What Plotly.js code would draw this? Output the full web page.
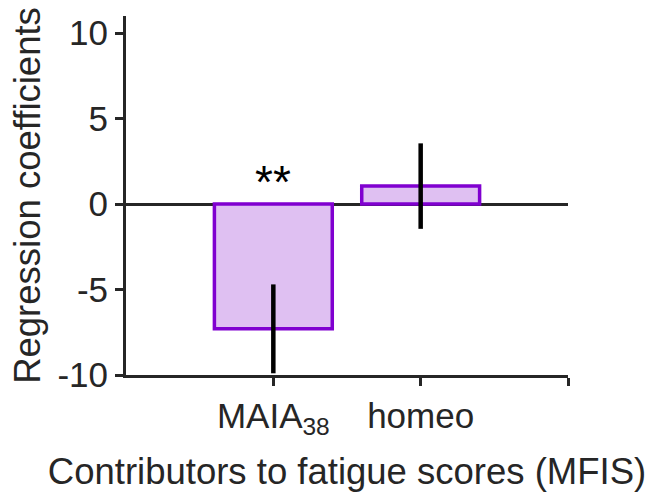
<!DOCTYPE html>
<html>
<head>
<meta charset="utf-8">
<script src="https://cdn.plot.ly/plotly-3.0.1.min.js"></script>
<style>html,body{margin:0;padding:0;background:#fff;}#chart{width:652px;height:496px;}</style>
</head>
<body>
<div id="chart"></div>
<script>
var categories = ['MAIA<sub>38</sub>', 'homeo'];
var positions = [1, 2];
var coefficients = [-7.3, 1.05];
var errors = [2.6, 2.5];
var significance = ['**', ''];
var yTickValues = [-10, -5, 0, 5, 10];
var yTickLabels = ['-10', '-5', '0', '5', '10'];

var ink = '#262626';
var fontFam = '"Liberation Sans", Arial, Helvetica, sans-serif';
var fs = 35;
var tfs = 36.5;

var trace = {
  type: 'bar',
  x: positions,
  y: coefficients,
  width: 0.8,
  marker: {color: 'rgb(223,192,242)', line: {color: 'rgb(128,0,208)', width: 3.5}},
  error_y: {type: 'data', array: errors, visible: true, color: '#000', thickness: 4.5, width: 0},
  hoverinfo: 'skip'
};

var annotations = [];
for (var i = 0; i < positions.length; i++) {
  if (significance[i]) {
    annotations.push({x: positions[i], y: 0, yshift: 22, text: significance[i], showarrow: false,
      font: {family: fontFam, size: 46, color: '#000'}, xanchor: 'center', yanchor: 'middle'});
  }
}

var layout = {
  width: 652, height: 496,
  margin: {l: 126, r: 84, t: 16, b: 121},
  paper_bgcolor: '#fff', plot_bgcolor: '#fff',
  showlegend: false,
  font: {family: fontFam, size: fs, color: ink},
  xaxis: {
    range: [0, 3], tickvals: positions.concat([3]), ticktext: categories.concat(['']),
    showline: true, linecolor: ink, linewidth: 3, ticks: 'outside', ticklen: 8, tickwidth: 3, tickcolor: ink,
    showgrid: false, zeroline: false,
    tickfont: {family: fontFam, size: fs, color: ink},
    title: {text: 'Contributors to fatigue scores (MFIS)', font: {family: fontFam, size: tfs, color: ink}, standoff: 20}
  },
  yaxis: {
    range: [-10, 11], tickvals: yTickValues, ticktext: yTickLabels,
    showline: true, linecolor: ink, linewidth: 3, ticks: 'outside', ticklen: 8, tickwidth: 3, tickcolor: ink,
    showgrid: false, zeroline: true, zerolinecolor: ink, zerolinewidth: 3,
    tickfont: {family: fontFam, size: fs, color: ink},
    title: {text: 'Regression coefficients', font: {family: fontFam, size: tfs, color: ink}, standoff: 6}
  },
  annotations: annotations
};

Plotly.newPlot('chart', [trace], layout, {displayModeBar: false, staticPlot: true});
</script>
</body>
</html>
